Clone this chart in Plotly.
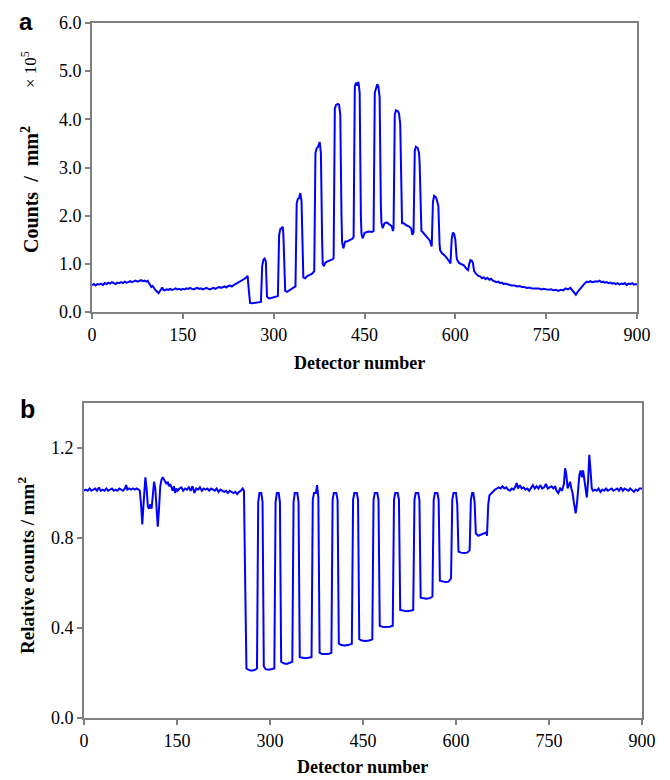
import plotly.graph_objects as go

# ---------------- Panel a: counts / mm^2 (x 10^5) ----------------
a_left = [(0,0.56),(3,0.58),(6,0.55),(9,0.58),(12,0.57),(15,0.59),(18,0.56),(21,0.60),(24,0.58),
          (27,0.61),(30,0.59),(33,0.62),(36,0.60),(39,0.58),(42,0.61),(45,0.60),(48,0.62),(51,0.60),
          (54,0.63),(57,0.61),(60,0.62),(63,0.64),(66,0.62),(69,0.63),(72,0.65),(75,0.63),(78,0.64),
          (81,0.66),(84,0.64),(87,0.65),(90,0.63),(92,0.65),(94,0.60),(96,0.55),(98,0.52),(100,0.54),
          (102,0.49),(104,0.47),(106,0.44),(108,0.41),(110,0.39),(112,0.43),(114,0.48),(116,0.51),
          (118,0.46),(120,0.45),(123,0.47),(126,0.46),(129,0.48),(132,0.46),(135,0.47),(138,0.49),
          (141,0.47),(144,0.48),(147,0.46),(150,0.48),(153,0.47),(156,0.49),(159,0.48),(162,0.50),
          (165,0.48),(168,0.47),(171,0.49),(174,0.50),(177,0.48),(180,0.49),(183,0.47),(186,0.49),
          (189,0.50),(192,0.48),(195,0.47),(198,0.49),(201,0.50),(204,0.48),(207,0.50),(210,0.52),
          (213,0.50),(216,0.51),(219,0.53),(222,0.51),(225,0.54),(228,0.55),(231,0.53),(234,0.56),
          (237,0.58),(240,0.60),(243,0.62),(246,0.64),(249,0.67),(252,0.69),(255,0.72)]
a_peaks = [(257,0.75),(259,0.45),(261,0.19),(264,0.18),(268,0.19),(272,0.19),(276,0.20),(279,0.21),
           (281,0.95),(283,1.08),(285,1.11),(287,1.06),(289,0.32),
           (292,0.28),(296,0.29),(300,0.30),(304,0.31),(307,0.33),
           (309,1.60),(311,1.72),(313,1.74),(315,1.77),(316,1.62),(318,0.60),(319,0.44),
           (322,0.42),(326,0.45),(330,0.47),(334,0.50),(336,0.53),
           (338,2.25),(340,2.35),(342,2.36),(344,2.47),(346,2.30),(348,1.00),(349,0.72),
           (352,0.70),(356,0.75),(360,0.77),(364,0.80),(367,0.85),
           (369,3.30),(371,3.40),(373,3.42),(376,3.53),(378,3.30),(380,1.50),(381,1.00),
           (383,0.95),(385,1.02),(389,1.05),(393,1.07),(397,1.09),(399,1.12),
           (401,4.22),(403,4.30),(406,4.32),(408,4.30),(410,4.10),(412,2.00),(413,1.45),
           (415,1.32),(418,1.46),(422,1.47),(426,1.49),(430,1.52),(432,1.56),
           (434,4.68),(436,4.76),(438,4.70),(440,4.78),(442,4.55),(444,2.00),(445,1.62),
           (447,1.53),(450,1.64),(454,1.66),(458,1.67),(462,1.66),(465,1.68),
           (467,4.55),(469,4.66),(471,4.73),(473,4.68),(475,4.45),(477,2.20),(478,1.85),
           (480,1.74),(483,1.84),(487,1.86),(491,1.81),(495,1.78),(497,1.68),(498,1.75),
           (500,4.10),(502,4.19),(505,4.17),(507,4.12),(509,3.90),(511,2.00),(512,1.84),
           (515,1.84),(519,1.80),(523,1.78),(527,1.74),(529,1.60),(531,1.66),
           (533,3.35),(535,3.43),(538,3.40),(540,3.30),(541,3.10),(543,1.90),(544,1.68),
           (546,1.66),(550,1.60),(554,1.55),(558,1.48),(561,1.36),
           (563,2.28),(565,2.41),(568,2.38),(570,2.30),(572,2.20),(574,1.40),(575,1.28),
           (578,1.22),(582,1.18),(586,1.12),(590,1.06),(592,1.01),
           (594,1.52),(596,1.65),(598,1.62),(600,1.50),(602,1.15),(603,1.08),
           (606,1.02),(610,1.00),(614,0.97),(618,0.90),(621,0.87),
           (623,1.00),(625,1.08),(627,1.07),(629,1.02),(631,0.85)]
a_right = [(633,0.80),(635,0.78),(638,0.75),(641,0.74),(644,0.70),(647,0.72),(650,0.68),(653,0.71),
           (656,0.67),(659,0.69),(662,0.65),(665,0.64),(668,0.62),(671,0.63),(674,0.60),(677,0.61),
           (680,0.58),(683,0.59),(686,0.57),(690,0.56),(694,0.55),(698,0.55),(702,0.53),(706,0.54),
           (710,0.52),(714,0.52),(718,0.50),(722,0.51),(726,0.49),(730,0.49),(734,0.48),(738,0.49),
           (742,0.47),(746,0.48),(750,0.47),(754,0.46),(758,0.47),(762,0.45),(766,0.46),(770,0.44),
           (774,0.46),(778,0.45),(782,0.49),(786,0.47),(790,0.50),(793,0.46),(796,0.42),(799,0.36),
           (802,0.42),(805,0.47),(808,0.52),(811,0.55),(814,0.60),(817,0.63),(820,0.62),(823,0.64),
           (826,0.62),(829,0.63),(832,0.64),(835,0.63),(838,0.65),(841,0.62),(844,0.63),(847,0.61),
           (850,0.62),(853,0.60),(856,0.61),(859,0.59),(862,0.60),(865,0.58),(868,0.60),(871,0.57),
           (874,0.59),(877,0.58),(880,0.60),(883,0.56),(886,0.59),(889,0.58),(892,0.60),(895,0.57),
           (898,0.58),(900,0.57)]

# ---------------- Panel b: relative counts / mm^2 ----------------
b_left = [(0,1.01),(3,1.015),(6,1.01),(9,1.02),(12,1.01),(15,1.015),(18,1.02),(21,1.01),(24,1.025),
          (27,1.01),(30,1.015),(33,1.01),(36,1.02),(39,1.01),(42,1.015),(45,1.02),(48,1.01),(51,1.015),
          (54,1.01),(57,1.02),(60,1.015),(63,1.01),(66,1.02),(68,1.035),(70,1.015),(73,1.02),(76,1.015),
          (79,1.02),(82,1.015),(85,1.02),(88,1.015),(90,1.01),(92,0.95),(94,0.86),(96,0.95),(98,1.04),
          (99,1.07),(101,1.02),(103,0.94),(105,0.93),(107,0.95),(109,0.93),(111,1.00),(113,1.05),
          (115,1.02),(117,0.92),(119,0.85),(121,0.93),(123,1.03),(125,1.06),(127,1.07),(129,1.06),
          (131,1.05),(133,1.04),(135,1.05),(137,1.03),(139,1.04),(141,1.02),(143,1.01),(145,1.03),
          (147,1.00),(149,1.02),(151,1.01),(154,1.02),(157,1.025),(160,1.01),(163,1.02),(166,1.015),
          (169,1.025),(172,1.01),(175,1.03),(178,1.00),(181,1.02),(184,1.015),(187,1.025),(190,1.01),
          (193,1.02),(196,1.015),(199,1.02),(202,1.01),(205,1.02),(208,1.015),(211,1.01),(214,1.02),
          (217,1.005),(220,1.015),(223,1.01),(226,1.005),(229,1.01),(232,1.00),(235,1.01),(238,1.005),
          (241,1.00),(244,1.005),(247,0.995),(250,1.005),(253,1.01),(256,1.02)]
b_steps = [(258,1.01),(260,0.60),(262,0.22),(265,0.215),(270,0.21),(275,0.213),(279,0.22),
           (281,0.96),(283,1.0),(286,1.0),(288,0.96),(290,0.23),
           (293,0.217),(298,0.215),(303,0.218),(307,0.22),
           (309,0.96),(311,1.0),(314,1.0),(316,0.96),(318,0.25),
           (322,0.243),(327,0.24),(332,0.245),(336,0.25),
           (338,0.96),(340,1.0),(344,1.0),(346,0.96),(348,0.27),
           (352,0.268),(357,0.266),(362,0.268),(367,0.27),
           (369,0.97),(371,1.0),(374,1.0),(376,1.035),(378,0.98),(380,0.29),
           (384,0.284),(389,0.283),(394,0.284),(399,0.29),
           (401,0.97),(403,1.0),(407,1.0),(409,0.97),(411,0.33),
           (415,0.324),(420,0.322),(426,0.324),(432,0.33),
           (434,0.97),(436,1.0),(440,1.0),(442,0.97),(444,0.35),
           (448,0.344),(454,0.342),(460,0.344),(465,0.35),
           (467,0.97),(469,1.0),(473,1.0),(475,0.97),(477,0.41),
           (481,0.406),(487,0.404),(493,0.406),(498,0.41),
           (500,0.97),(502,1.0),(506,1.0),(508,0.97),(510,0.48),
           (514,0.477),(520,0.475),(526,0.477),(531,0.48),
           (533,0.97),(535,1.0),(539,1.0),(541,0.97),(543,0.535),
           (547,0.532),(552,0.530),(557,0.532),(562,0.54),
           (564,0.97),(566,1.0),(570,1.0),(572,0.97),(574,0.61),
           (578,0.606),(583,0.604),(588,0.606),(592,0.62),
           (594,0.97),(596,1.0),(600,1.0),(602,0.95),(604,0.74),
           (608,0.735),(613,0.733),(618,0.735),(622,0.745),
           (624,0.97),(626,1.0),(628,1.0),(630,0.96),(632,0.82),
           (636,0.81),(641,0.815),(646,0.82),(649,0.825),(650,0.81)]
b_right = [(652,0.95),(654,0.99),(657,1.0),(660,1.01),(663,1.015),(666,1.02),(669,1.025),(672,1.02),
           (675,1.03),(678,1.02),(681,1.025),(684,1.015),(687,1.01),(690,1.02),(693,1.015),(696,1.03),
           (698,1.045),(700,1.02),(703,1.035),(706,1.02),(709,1.025),(712,1.015),(715,1.02),(718,1.01),
           (721,1.025),(724,1.035),(727,1.02),(730,1.03),(733,1.02),(736,1.035),(739,1.02),(742,1.025),
           (745,1.04),(748,1.02),(751,1.025),(754,1.03),(757,1.02),(760,1.03),(762,1.01),(765,1.00),
           (768,1.02),(771,1.01),(774,1.04),(776,1.11),(778,1.08),(780,1.02),(782,1.035),(784,1.05),
           (786,1.02),(788,1.00),(790,0.96),(793,0.91),(795,0.95),(797,1.02),(799,1.08),(801,1.10),
           (803,1.07),(805,1.10),(807,1.06),(809,1.02),(811,0.98),(813,1.05),(815,1.17),(817,1.10),
           (819,1.02),(821,1.01),(824,1.015),(827,1.01),(830,1.02),(833,1.005),(836,1.015),(839,1.01),
           (842,1.02),(845,1.01),(848,1.015),(851,1.02),(854,1.01),(857,1.015),(860,1.02),(863,1.01),
           (866,1.025),(869,1.01),(872,1.02),(875,1.015),(878,1.01),(881,1.02),(884,1.01),(887,1.005),
           (890,1.015),(893,1.01),(896,1.02),(900,1.02)]

x_ticks = [0, 150, 300, 450, 600, 750, 900]
a_y_ticks = [0, 1, 2, 3, 4, 5, 6]
b_y_ticks = [0.0, 0.4, 0.8, 1.2]

a_pts = a_left + a_peaks + a_right
b_pts = b_left + b_steps + b_right

# The page body has an 8 px margin, so the figure is drawn 8 px in from the window edges.
OFF = 8
W, H = 670 - OFF, 780 - OFF
def px(x): return (x - OFF) / W
def py(y): return 1 - (y - OFF) / H

serif = "Liberation Serif"
blue = "#0000FF"
gray = "#808080"

fig = go.Figure()
fig.add_trace(go.Scatter(x=[p[0] for p in a_pts], y=[p[1] for p in a_pts], mode="lines",
                         line=dict(color=blue, width=2), xaxis="x", yaxis="y", showlegend=False))
fig.add_trace(go.Scatter(x=[p[0] for p in b_pts], y=[p[1] for p in b_pts], mode="lines",
                         line=dict(color=blue, width=2), xaxis="x2", yaxis="y2", showlegend=False))

axcommon = dict(showline=True, linecolor=gray, linewidth=2, mirror=True, ticks="outside",
                ticklen=5, tickwidth=2, tickcolor=gray, showgrid=False, zeroline=False,
                automargin=False,
                tickfont=dict(family=serif, size=18, color="black"))

fig.update_layout(
    width=W, height=H, margin=dict(l=0, r=0, t=0, b=0, autoexpand=False),
    paper_bgcolor="white", plot_bgcolor="white",
    xaxis=dict(domain=[px(92), px(637)], range=[0, 900], tickvals=x_ticks, anchor="y", **axcommon),
    yaxis=dict(domain=[py(312), py(23)], range=[0, 6], tickvals=a_y_ticks, tickformat=".1f",
               anchor="x", **axcommon),
    xaxis2=dict(domain=[px(84), px(642)], range=[0, 900], tickvals=x_ticks, anchor="y2", **axcommon),
    yaxis2=dict(domain=[py(718), py(403)], range=[0, 1.4], tickvals=b_y_ticks, tickformat=".1f",
                anchor="x2", **axcommon),
)

ann = [
    dict(text="<b>a</b>", x=px(26), y=py(22), font=dict(family="Liberation Sans", size=24)),
    dict(text="<b>b</b>", x=px(27), y=py(409), font=dict(family="Liberation Sans", size=25)),
    dict(text="<b>Detector number</b>", x=px(359), y=py(363), font=dict(family=serif, size=18)),
    dict(text="<b>Detector number</b>", x=px(362), y=py(767), font=dict(family=serif, size=18)),
    dict(text="<b>Counts  /  mm<sup>2</sup></b>", x=px(30), y=py(190), textangle=-90,
         font=dict(family=serif, size=20)),
    dict(text="× 10<sup>5</sup>", x=px(29), y=py(70), textangle=-90, font=dict(family=serif, size=17)),
    dict(text="<b>Relative counts / mm<sup>2</sup></b>", x=px(26), y=py(566), textangle=-90,
         font=dict(family=serif, size=19)),
]
for a in ann:
    a.setdefault("font", {})
    a["font"]["color"] = "black"
    fig.add_annotation(xref="paper", yref="paper", showarrow=False, xanchor="center",
                       yanchor="middle", **a)

fig.write_html("out.html")
